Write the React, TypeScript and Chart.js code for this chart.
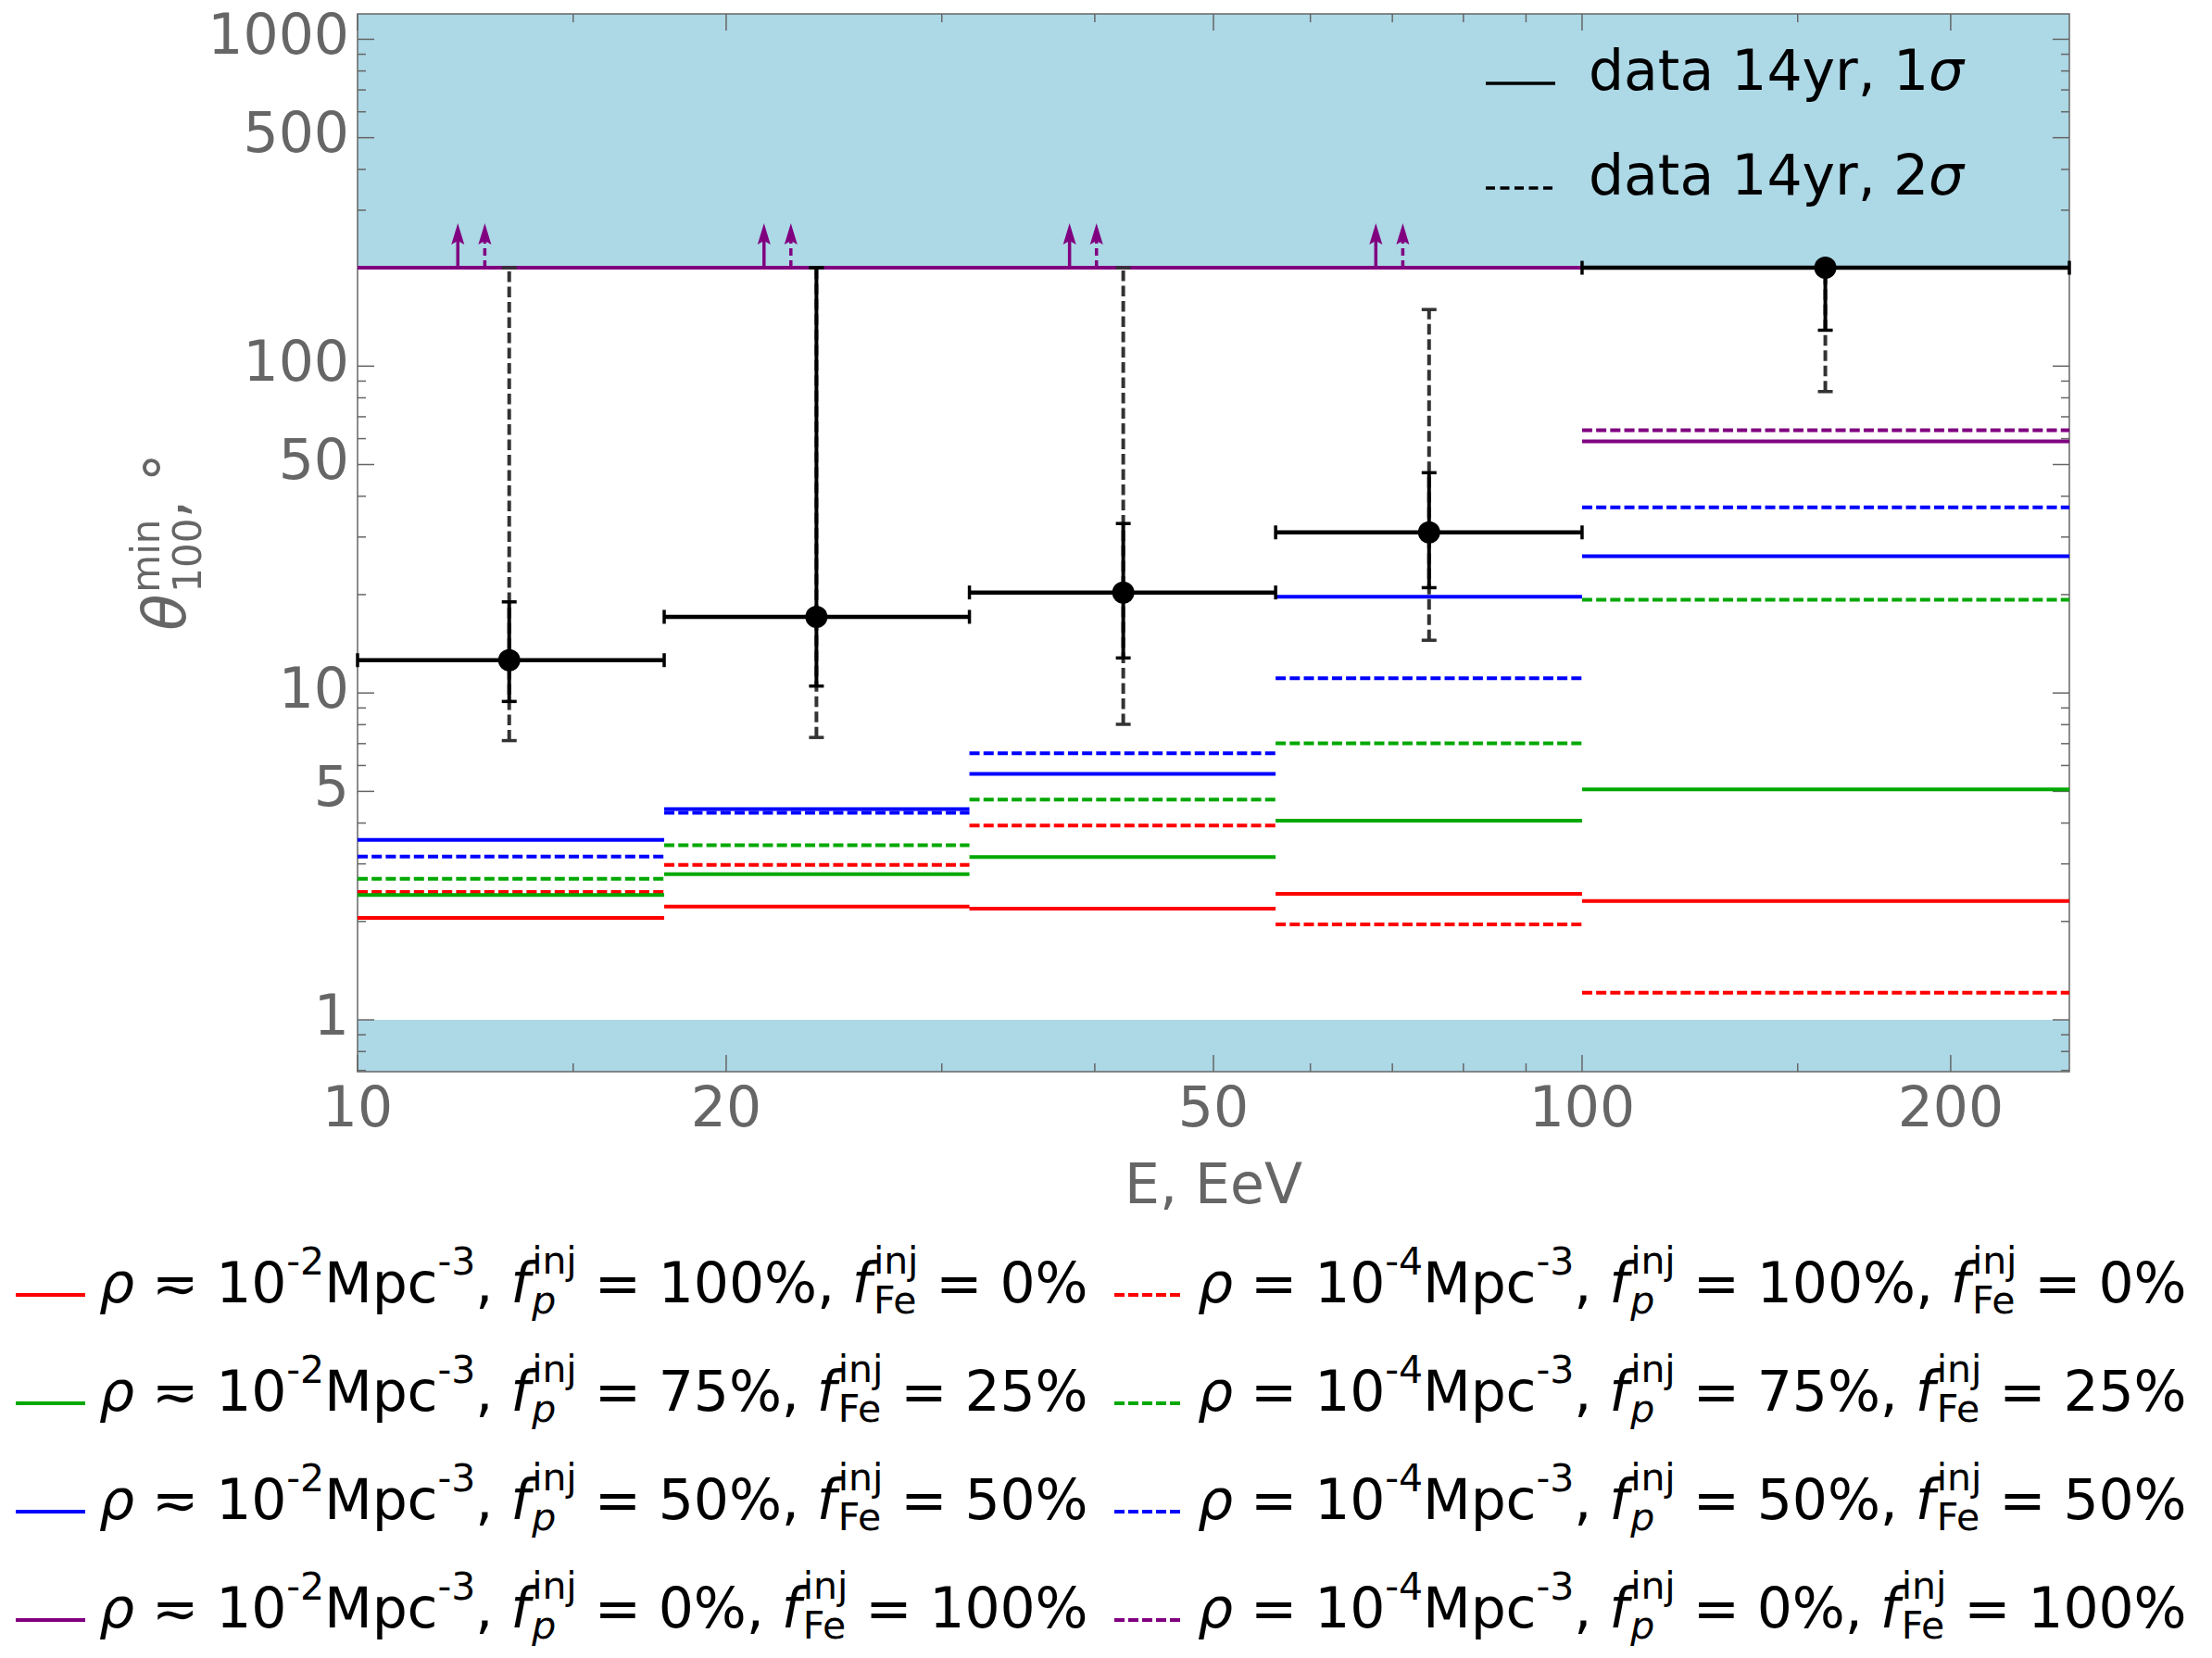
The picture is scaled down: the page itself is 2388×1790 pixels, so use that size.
import React, { useEffect, useRef } from 'react';
import { Chart, registerables } from 'chart.js';

Chart.register(...registerables);

const FONT = "'DejaVu Sans', 'Noto Sans', sans-serif";
const AXIS_GRAY = '#666666';
const SHADE = '#add8e6';
const RED = '#ff0000';
const GREEN = '#00a800';
const BLUE = '#0000ff';
const PURPLE = '#800080';

// energy bins, EeV
const binEdges = [10, 17.8, 31.6, 56.2, 100, 250];
const binCenters = [13.3, 23.7, 42.2, 75, 158];

// angle range: above the cap and below the floor it is shaded
const thetaCap = 200;
const thetaFloor = 1;

// data 14yr
const dataTheta = [12.6, 17.1, 20.3, 31.0, 200];
const sigma1Low = [9.42, 10.5, 12.8, 21.0, 128.8];
const sigma1High = [19.0, 200, 33.0, 47.2, 200];
const sigma2Low = [7.15, 7.31, 8.02, 14.5, 83.6];
const sigma2High = [200, 200, 200, 149, 200];

// rho ~ 1e-2 Mpc^-3 (solid)
const redSolid = [2.05, 2.22, 2.19, 2.43, 2.31];
const greenSolid = [2.41, 2.79, 3.15, 4.07, 5.07];
const blueSolid = [3.55, 4.41, 5.66, 19.7, 26.2];
const purpleSolid = [200, 200, 200, 200, 58.9];
// rho = 1e-4 Mpc^-3 (dashed)
const redDashed = [2.46, 2.98, 3.93, 1.96, 1.21];
const greenDashed = [2.7, 3.42, 4.72, 7.01, 19.3];
const blueDashed = [3.16, 4.3, 6.54, 11.1, 37.0];
const purpleDashed = [200, 200, 200, 200, 63.7];
// purple values in the first bins are only lower limits
const purpleLowerLimit = [true, true, true, true, false];

const xMajorTicks = [10, 20, 50, 100, 200];
const xMinorTicks = [15, 30, 40, 60, 70, 80, 90, 150];
const yMajorTicks = [1, 5, 10, 50, 100, 500, 1000];
const yMinorTicks = [0.7, 0.8, 0.9, 2, 3, 4, 6, 7, 8, 9, 20, 30, 40, 60, 70, 80, 90, 200, 300, 400, 600, 700, 800, 900];

const fpLabels = ['100%', '75%', '50%', '0%'];
const fFeLabels = ['0%', '25%', '50%', '100%'];

const models = [
  { values: redSolid, color: RED, dashed: false },
  { values: greenSolid, color: GREEN, dashed: false },
  { values: blueSolid, color: BLUE, dashed: false },
  { values: purpleSolid, color: PURPLE, dashed: false, limits: purpleLowerLimit },
  { values: redDashed, color: RED, dashed: true },
  { values: greenDashed, color: GREEN, dashed: true },
  { values: blueDashed, color: BLUE, dashed: true },
  { values: purpleDashed, color: PURPLE, dashed: true, limits: purpleLowerLimit },
];

const DASH = [11, 4.2];

function binSegments(values: number[]) {
  const pts: { x: number; y: number | null }[] = [];
  values.forEach((v, i) => {
    if (i > 0) pts.push({ x: binEdges[i], y: null });
    pts.push({ x: binEdges[i], y: v }, { x: binEdges[i + 1], y: v });
  });
  return pts;
}

function segment(ctx: CanvasRenderingContext2D, x0: number, y0: number, x1: number, y1: number) {
  ctx.beginPath();
  ctx.moveTo(x0, y0);
  ctx.lineTo(x1, y1);
  ctx.stroke();
}

// shaded regions, frame and inward ticks on all four sides
const framePlugin = {
  id: 'frame',
  beforeDatasetsDraw(chart: any) {
    const { ctx, chartArea: a, scales: { x, y } } = chart;
    ctx.save();
    ctx.fillStyle = SHADE;
    const yc = y.getPixelForValue(thetaCap);
    const yf = y.getPixelForValue(thetaFloor);
    ctx.fillRect(a.left, a.top, a.right - a.left, yc - a.top);
    ctx.fillRect(a.left, yf, a.right - a.left, a.bottom - yf);

    ctx.strokeStyle = AXIS_GRAY;
    ctx.lineWidth = 1.5;
    const tick = (v: number, len: number) => {
      const px = x.getPixelForValue(v);
      segment(ctx, px, a.bottom, px, a.bottom - len);
      segment(ctx, px, a.top, px, a.top + len);
    };
    xMajorTicks.forEach((v) => tick(v, 18));
    xMinorTicks.forEach((v) => tick(v, 9));
    const ytick = (v: number, len: number) => {
      const py = y.getPixelForValue(v);
      segment(ctx, a.left, py, a.left + len, py);
      segment(ctx, a.right, py, a.right - len, py);
    };
    yMajorTicks.forEach((v) => ytick(v, 18));
    yMinorTicks.forEach((v) => ytick(v, 9));
    ctx.strokeRect(a.left, a.top, a.right - a.left, a.bottom - a.top);
    ctx.restore();
  },
};

function vbar(ctx: CanvasRenderingContext2D, px: number, y0: number, y1: number, color: string, dash: number[]) {
  ctx.strokeStyle = color;
  ctx.lineWidth = 4;
  ctx.setLineDash(dash);
  segment(ctx, px, y0, px, y1);
  ctx.setLineDash([]);
  ctx.lineWidth = 3.5;
  segment(ctx, px - 8, y0, px + 8, y0);
  segment(ctx, px - 8, y1, px + 8, y1);
}

const errorBarsPlugin = {
  id: 'errorBars',
  beforeDatasetDraw(chart: any, args: any) {
    if (args.meta.type !== 'scatter') return;
    const { ctx, scales: { x, y } } = chart;
    ctx.save();
    binCenters.forEach((c, i) => {
      const px = x.getPixelForValue(c);
      vbar(ctx, px, y.getPixelForValue(sigma2Low[i]), y.getPixelForValue(sigma2High[i]), '#333333', [11.5, 5]);
      vbar(ctx, px, y.getPixelForValue(sigma1Low[i]), y.getPixelForValue(sigma1High[i]), '#000000', []);
      const x0 = x.getPixelForValue(binEdges[i]);
      const x1 = x.getPixelForValue(binEdges[i + 1]);
      const py = y.getPixelForValue(dataTheta[i]);
      ctx.strokeStyle = '#000000';
      ctx.lineWidth = 4.5;
      segment(ctx, x0, py, x1, py);
      ctx.lineWidth = 3.5;
      segment(ctx, x0, py - 7.5, x0, py + 7.5);
      segment(ctx, x1, py - 7.5, x1, py + 7.5);
    });
    ctx.restore();
  },
};

// upward arrows for lower limits
const arrowsPlugin = {
  id: 'limitArrows',
  afterDatasetsDraw(chart: any) {
    const { ctx, scales: { x, y } } = chart;
    ctx.save();
    models.forEach((m) => {
      if (!m.limits) return;
      const frac = m.dashed ? 0.415 : 0.327;
      m.values.forEach((v, i) => {
        if (!m.limits![i]) return;
        const l0 = Math.log10(binEdges[i]);
        const l1 = Math.log10(binEdges[i + 1]);
        const px = x.getPixelForValue(Math.pow(10, l0 + frac * (l1 - l0)));
        const py = y.getPixelForValue(v);
        const tip = py - 48;
        ctx.strokeStyle = m.color;
        ctx.fillStyle = m.color;
        ctx.lineWidth = 3.5;
        ctx.setLineDash(m.dashed ? [8, 5] : []);
        segment(ctx, px, py, px, tip + 16);
        ctx.setLineDash([]);
        ctx.beginPath();
        ctx.moveTo(px, tip);
        ctx.lineTo(px + 7, tip + 23);
        ctx.lineTo(px, tip + 19);
        ctx.lineTo(px - 7, tip + 23);
        ctx.closePath();
        ctx.fill();
      });
    });
    ctx.restore();
  },
};

// in-plot legend and rotated y title
const labelsPlugin = {
  id: 'labels',
  afterDraw(chart: any) {
    const { ctx, chartArea: a } = chart;
    ctx.save();
    // legend for the data
    const lx = a.right - 630;
    ctx.strokeStyle = '#000000';
    ctx.lineWidth = 3.5;
    segment(ctx, lx, a.top + 75, lx + 75, a.top + 75);
    ctx.setLineDash([10, 5.5]);
    segment(ctx, lx, a.top + 188, lx + 73, a.top + 188);
    ctx.setLineDash([]);
    ctx.fillStyle = '#000000';
    ctx.textBaseline = 'alphabetic';
    ['1', '2'].forEach((n, k) => {
      const by = a.top + 82 + k * 113;
      ctx.font = `60px ${FONT}`;
      const t = `data 14yr, ${n}`;
      ctx.fillText(t, lx + 111, by);
      const w = ctx.measureText(t).width;
      ctx.font = `italic 60px ${FONT}`;
      ctx.fillText('σ', lx + 111 + w, by);
    });

    // y title: theta_100^min, °
    ctx.translate(a.left - 186, (a.top + a.bottom) / 2);
    ctx.rotate(-Math.PI / 2);
    ctx.fillStyle = AXIS_GRAY;
    const mainIt = `italic 64px ${FONT}`;
    const main = `62px ${FONT}`;
    const small = `42px ${FONT}`;
    ctx.font = mainIt;
    const wTheta = ctx.measureText('θ').width;
    ctx.font = small;
    const wStack = Math.max(ctx.measureText('min').width, ctx.measureText('100').width);
    ctx.font = main;
    const wTail = ctx.measureText(', °').width;
    let cx = -(wTheta + wStack + wTail) / 2;
    ctx.font = mainIt;
    ctx.fillText('θ', cx, 0);
    cx += wTheta + 2;
    ctx.font = small;
    ctx.fillText('min', cx, -28);
    ctx.fillText('100', cx, 17);
    cx += wStack;
    ctx.font = main;
    ctx.fillText(', °', cx, 0);
    ctx.restore();
  },
};

const ThetaChart: React.FC = () => {
  const canvasRef = useRef<HTMLCanvasElement>(null);
  const chartRef = useRef<Chart | null>(null);

  useEffect(() => {
    if (!canvasRef.current) return;
    if (chartRef.current) chartRef.current.destroy();

    const lineSets = models.map((m, k) => ({
      type: 'line' as const,
      data: binSegments(m.values),
      borderColor: m.color,
      borderWidth: 4,
      borderDash: m.dashed ? DASH : [],
      pointRadius: 0,
      spanGaps: false,
      fill: false,
      order: 1 + k,
    }));

    chartRef.current = new Chart(canvasRef.current, {
      type: 'line',
      data: {
        datasets: [
          {
            type: 'scatter',
            data: binCenters.map((c, i) => ({ x: c, y: dataTheta[i] })),
            pointRadius: 12,
            pointBackgroundColor: '#000000',
            pointBorderWidth: 0,
            order: 0,
          },
          ...lineSets,
        ],
      } as any,
      options: {
        animation: false,
        responsive: false,
        maintainAspectRatio: false,
        layout: { padding: { left: 0, top: 15, right: 154, bottom: 0 } },
        plugins: { legend: { display: false }, tooltip: { enabled: false } },
        scales: {
          x: {
            type: 'logarithmic',
            min: 10,
            max: 250,
            grid: { display: false, drawTicks: false },
            border: { display: false },
            ticks: {
              autoSkip: false,
              maxRotation: 0,
              padding: 7,
              color: AXIS_GRAY,
              font: { family: FONT, size: 60 },
              callback: (v: any) => String(v),
            },
            afterBuildTicks: (s: any) => {
              s.ticks = xMajorTicks.map((value) => ({ value }));
            },
            afterFit: (s: any) => {
              s.height = 173;
              s.paddingLeft = 0;
              s.paddingRight = 0;
            },
            title: {
              display: true,
              text: 'E, EeV',
              color: AXIS_GRAY,
              font: { family: FONT, size: 60 },
              padding: { top: 0, bottom: 11 },
            },
          },
          y: {
            type: 'logarithmic',
            min: 0.694,
            max: 1196,
            grid: { display: false, drawTicks: false },
            border: { display: false },
            ticks: {
              autoSkip: false,
              padding: 9,
              color: AXIS_GRAY,
              font: { family: FONT, size: 60 },
              callback: (v: any) => String(v),
            },
            afterBuildTicks: (s: any) => {
              s.ticks = yMajorTicks.map((value) => ({ value }));
            },
            afterFit: (s: any) => {
              s.width = 386;
              s.paddingTop = 0;
              s.paddingBottom = 0;
            },
          },
        },
      } as any,
      plugins: [framePlugin, errorBarsPlugin, arrowsPlugin, labelsPlugin],
    });

    return () => {
      if (chartRef.current) {
        chartRef.current.destroy();
        chartRef.current = null;
      }
    };
  }, []);

  return (
    <canvas
      ref={canvasRef}
      width={2388}
      height={1330}
      style={{ position: 'absolute', left: 0, top: 0, width: 2388, height: 1330 }}
    />
  );
};

const small: React.CSSProperties = { fontSize: 41, position: 'relative', top: -30 };

const Stack: React.FC<{ sub: React.ReactNode }> = ({ sub }) => (
  <span
    style={{
      display: 'inline-flex',
      flexDirection: 'column',
      verticalAlign: 'baseline',
      position: 'relative',
      top: -31,
      fontSize: 41,
      lineHeight: '41px',
      marginLeft: 2,
    }}
  >
    <span>inj</span>
    <span style={{ marginTop: 2 }}>{sub}</span>
  </span>
);

const rowBaselines = [1406, 1523, 1640, 1757];

const LegendEntry: React.FC<{ col: number; row: number }> = ({ col, row }) => {
  const dashed = col === 1;
  const color = [RED, GREEN, BLUE, PURPLE][row];
  const lineLeft = dashed ? 1203 : 17;
  const textLeft = dashed ? 1293 : 107;
  const base = rowBaselines[row];
  return (
    <>
      <svg
        width={76}
        height={8}
        style={{ position: 'absolute', left: lineLeft, top: base - 12 }}
      >
        <line
          x1={0}
          y1={4}
          x2={dashed ? 71 : 75}
          y2={4}
          stroke={color}
          strokeWidth={4}
          strokeDasharray={dashed ? '11 4' : undefined}
        />
      </svg>
      <div
        style={{
          position: 'absolute',
          left: textLeft,
          top: base - 51,
          fontSize: 60,
          lineHeight: '60px',
          letterSpacing: -0.1,
          whiteSpace: 'nowrap',
          color: '#000',
        }}
      >
        <i>ρ</i>
        {dashed ? ' = ' : ' ≂ '}10<span style={small}>{dashed ? '-4' : '-2'}</span>Mpc
        <span style={small}>-3</span>, <i>f</i>
        <Stack sub={<i>p</i>} />
        {` = ${fpLabels[row]}, `}
        <i>f</i>
        <Stack sub="Fe" />
        {` = ${fFeLabels[row]}`}
      </div>
    </>
  );
};

const App: React.FC = () => (
  <div
    style={{
      position: 'fixed',
      left: 0,
      top: 0,
      width: 2388,
      height: 1790,
      overflow: 'hidden',
      background: '#ffffff',
      fontFamily: FONT,
    }}
  >
    <ThetaChart />
    {[0, 1].map((col) =>
      [0, 1, 2, 3].map((row) => <LegendEntry key={`${col}-${row}`} col={col} row={row} />)
    )}
  </div>
);

export default App;
